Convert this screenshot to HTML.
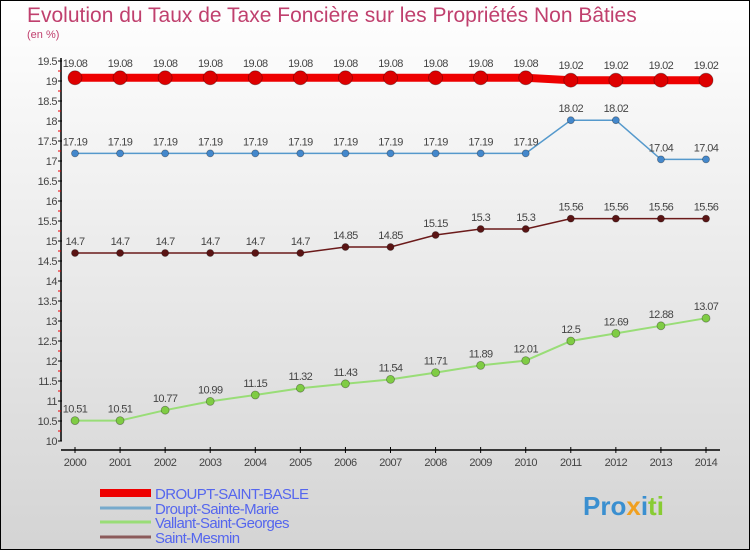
<!DOCTYPE html>
<html><head><meta charset="utf-8"><style>
html,body{margin:0;padding:0}
body{width:750px;height:550px;overflow:hidden;font-family:"Liberation Sans",sans-serif}
#wrap{position:absolute;left:0;top:0;width:748px;height:548px;border:1px solid #000;background:linear-gradient(#ffffff,#d4d4d4)}
</style></head><body>
<div id="wrap">
<svg id="chart" width="750" height="550" style="position:absolute;left:-1px;top:-1px">
<text x="27" y="22" font-size="21" fill="#c0406e">Evolution du Taux de Taxe Foncière sur les Propriétés Non Bâties</text>
<text x="27" y="38" font-size="11" fill="#c0406e">(en %)</text>
<g id="axes"></g><g id="series"></g><g id="legend"></g>
</svg>
</div>
<script>
const years=[2000,2001,2002,2003,2004,2005,2006,2007,2008,2009,2010,2011,2012,2013,2014];
const droupSaintBasle=[19.08,19.08,19.08,19.08,19.08,19.08,19.08,19.08,19.08,19.08,19.08,19.02,19.02,19.02,19.02];
const droupSainteMarie=[17.19,17.19,17.19,17.19,17.19,17.19,17.19,17.19,17.19,17.19,17.19,18.02,18.02,17.04,17.04];
const vallantSaintGeorges=[10.51,10.51,10.77,10.99,11.15,11.32,11.43,11.54,11.71,11.89,12.01,12.5,12.69,12.88,13.07];
const saintMesmin=[14.7,14.7,14.7,14.7,14.7,14.7,14.85,14.85,15.15,15.3,15.3,15.56,15.56,15.56,15.56];
const yTicks=[10,10.5,11,11.5,12,12.5,13,13.5,14,14.5,15,15.5,16,16.5,17,17.5,18,18.5,19,19.5];
const seriesNames=["DROUPT-SAINT-BASLE","Droupt-Sainte-Marie","Vallant-Saint-Georges","Saint-Mesmin"];

const NS="http://www.w3.org/2000/svg";
const xS=i=>75+(706-75)*i/(years.length-1);
const yS=v=>61+(19.5-v)*40;
function mk(tag,attrs,parent){const e=document.createElementNS(NS,tag);for(const k in attrs)e.setAttribute(k,attrs[k]);parent.appendChild(e);return e;}
const axes=document.getElementById('axes'),ser=document.getElementById('series'),leg=document.getElementById('legend');
const fmt=v=>String(v);

let ya=mk('line',{x1:61,y1:58,x2:61,y2:441,stroke:'#000','stroke-width':1.5},axes);


yTicks.forEach(t=>{
  const y=yS(t);
  const tk=mk('line',{x1:58,y1:y,x2:62,y2:y,stroke:'#000'},axes);
  
  
  if(t<19.5){const m=mk('line',{x1:58,y1:y-10,x2:61,y2:y-10,stroke:'#e00'},axes);
    
    }
  const tx=mk('text',{x:57,y:y+4,'font-size':11,'text-anchor':'end',fill:'#444','letter-spacing':'-0.5'},axes);
  tx.textContent=fmt(t);
  
  
});
let xa=mk('line',{x1:61,y1:450,x2:720,y2:450,stroke:'#000','stroke-width':1.5},axes);


years.forEach((yr,i)=>{
  const x=xS(i);
  const tk=mk('line',{x1:x,y1:447,x2:x,y2:453,stroke:'#000'},axes);
  
  
  const tx=mk('text',{x:x,y:466,'font-size':11,'text-anchor':'middle',fill:'#444','letter-spacing':'-0.5'},axes);
  tx.textContent=yr;
  
  
});

const defs=[
 {data:saintMesmin,color:'#6b1a1a',fill:'#5a1414',w:1.5,r:3.5,name:'saint-mesmin'},
 {data:vallantSaintGeorges,color:'#99dd77',fill:'#7fcc44',w:2,r:4,name:'vallant-saint-georges'},
 {data:droupSainteMarie,color:'#5599cc',fill:'#4488cc',w:1.5,r:3.5,name:'droupt-sainte-marie'},
 {data:droupSaintBasle,color:'#ee0000',fill:'#dd0000',w:8,r:7,name:'droupt-saint-basle'}
];
defs.forEach(s=>{
  const pts=s.data.map((v,i)=>xS(i)+','+yS(v)).join(' ');
  const pl=mk('polyline',{points:pts,fill:'none',stroke:s.color,'stroke-width':s.w},ser);
  
  
  s.data.forEach((v,i)=>{
    const c=mk('circle',{cx:xS(i),cy:yS(v),r:s.r,fill:s.fill,stroke:'rgba(0,0,0,0.35)','stroke-width':0.8},ser);
    
    
    const t=mk('text',{x:xS(i),y:yS(v)-(s.r>5?11:8),'font-size':11,'text-anchor':'middle',fill:'#444','letter-spacing':'-0.6'},ser);
    t.textContent=fmt(v);
    
    
  });
});

const legColors=['#ee0000','#77aacc','#99dd77','#8b5a5a'],legW=[8,3,3,3],legY=[493,508,522,537];
seriesNames.forEach((n,i)=>{
  const l=mk('line',{x1:100,y1:legY[i],x2:151,y2:legY[i],stroke:legColors[i],'stroke-width':legW[i]},leg);
  
  
  const t=mk('text',{x:155,y:legY[i]+6,'font-size':15,fill:'#5566ee','letter-spacing':'-0.6'},leg);
  t.textContent=n;
  
  
});
const logo=mk('text',{x:583,y:515,'font-size':26,'font-weight':'bold',fill:'#3a8fd0'},leg);
logo.innerHTML='<tspan fill="#3a8fd0">Pro</tspan><tspan fill="#f0a020">x</tspan><tspan fill="#3a8fd0">i</tspan><tspan fill="#88cc33">ti</tspan>';


</script>
</body></html>
